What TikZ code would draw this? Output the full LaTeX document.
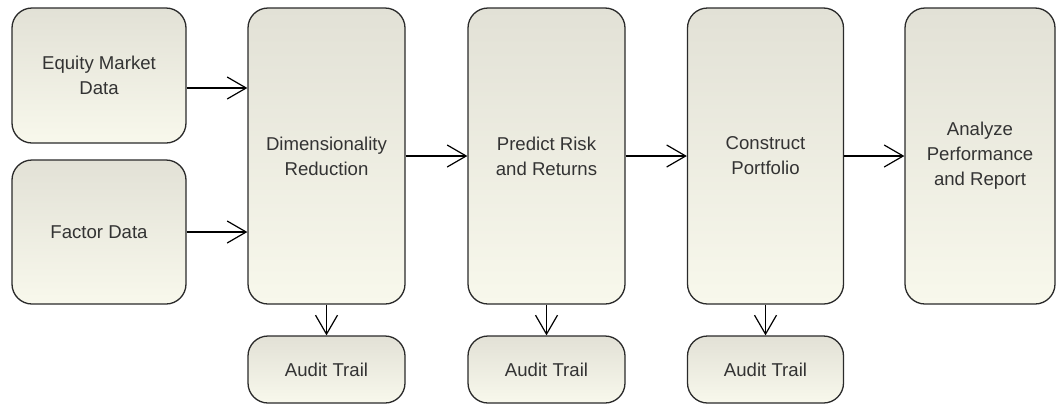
\documentclass[tikz,border=0pt]{standalone}
\usepackage{fontspec}
\setmainfont{Liberation Sans}
\usetikzlibrary{arrows.meta}
\definecolor{boxtop}{HTML}{E2E1D6}
\definecolor{boxbot}{HTML}{F8F8EC}
\definecolor{txt}{HTML}{333333}
\definecolor{edge}{HTML}{2A2A2A}
\begin{document}
\begin{tikzpicture}[x=1pt,y=-1pt,
  blk/.style={draw=edge, line width=1.3pt, rounded corners=20pt,
    top color=boxtop, bottom color=boxbot, inner sep=0pt,
    align=center, text=txt, font=\fontsize{18.6}{25}\selectfont},
  arr/.style={draw=black, line width=1.2pt, -{Straight Barb[length=19pt,width=22pt,line width=1.2pt]}}]
\useasboundingbox (0,0) rectangle (1056,405);
\node[blk, minimum width=174pt, minimum height=135pt] (eq) at (99,75.5) {Equity Market\\Data};
\node[blk, minimum width=174pt, minimum height=144pt] (fac) at (99,232) {Factor Data};
\node[blk, minimum width=157pt, minimum height=296pt] (dim) at (326.5,156) {Dimensionality\\Reduction};
\node[blk, minimum width=157pt, minimum height=296pt] (pred) at (546.5,156) {Predict Risk\\and Returns};
\node[blk, minimum width=156pt, minimum height=296pt] (con) at (765.5,156) {Construct\\Portfolio};
\node[blk, minimum width=150pt, minimum height=296pt] (ana) at (980,156) {Analyze\\Performance\\and Report};
\node[blk, minimum width=157pt, minimum height=67pt] (a1) at (326.5,369.5) {Audit Trail};
\node[blk, minimum width=157pt, minimum height=67pt] (a2) at (546.5,369.5) {Audit Trail};
\node[blk, minimum width=156pt, minimum height=67pt] (a3) at (765.5,369.5) {Audit Trail};
\coordinate (ya) at (0,88);
\draw[arr] (eq.east |- ya) -- (dim.west |- ya);
\draw[arr] (fac.east) -- (fac.east -| dim.west);
\draw[arr] (dim.east) -- (pred.west);
\draw[arr] (pred.east) -- (con.west);
\draw[arr] (con.east) -- (ana.west);
\draw[arr] (dim.south) -- (a1.north);
\draw[arr] (pred.south) -- (a2.north);
\draw[arr] (con.south) -- (a3.north);
\end{tikzpicture}
\end{document}
